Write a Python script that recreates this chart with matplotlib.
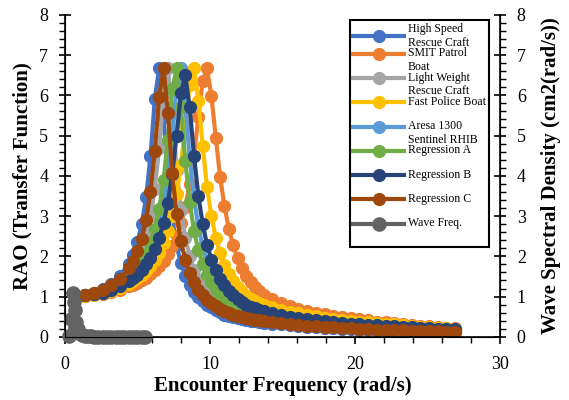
import matplotlib
matplotlib.use("Agg")
import matplotlib.pyplot as plt
from matplotlib.ticker import MultipleLocator

plt.rcParams['font.family'] = ['Liberation Serif', 'DejaVu Serif']

# encounter frequency grid shared by the RAO curves (rad/s)
freq = [0.8, 1.4, 2.0, 2.6, 3.2, 3.8, 4.4,
        4.7, 5.0, 5.3, 5.6, 5.9, 6.2, 6.5, 6.8, 7.1, 7.4, 7.7, 8.0, 8.3, 8.6,
        8.9, 9.2, 9.5, 9.8, 10.1, 10.4, 10.7, 11.0, 11.3, 11.6, 11.9, 12.2,
        12.5, 12.8, 13.1, 13.4, 13.7,
        14.3, 14.9, 15.5, 16.1, 16.7, 17.3, 17.9, 18.5, 19.1, 19.7, 20.3,
        20.9, 21.5, 22.1, 22.7, 23.3, 23.9, 24.5, 25.1, 25.7, 26.3, 26.9]

high_speed = [1.01, 1.05, 1.10, 1.19, 1.31, 1.51, 1.82,
              2.04, 2.35, 2.80, 3.47, 4.48, 5.92, 6.67, 5.47, 3.97, 2.94, 2.27, 1.83, 1.52, 1.29,
              1.12, 0.98, 0.88, 0.80, 0.73, 0.67, 0.61, 0.55, 0.52, 0.49, 0.455, 0.435,
              0.415, 0.40, 0.385, 0.37, 0.355,
              0.33, 0.31, 0.29, 0.27, 0.255, 0.24, 0.225, 0.21, 0.20, 0.19, 0.18,
              0.17, 0.162, 0.155, 0.148, 0.14, 0.135, 0.13, 0.125, 0.12, 0.115, 0.11]

smit_patrol = [1.01, 1.02, 1.04, 1.07, 1.12, 1.17, 1.25,
               1.29, 1.34, 1.41, 1.47, 1.55, 1.65, 1.75, 1.89, 2.05, 2.25, 2.50, 2.82, 3.23, 3.79,
               4.50, 5.45, 6.35, 6.67, 5.98, 4.95, 3.97, 3.25, 2.68, 2.27, 1.95, 1.70,
               1.52, 1.37, 1.24, 1.13, 1.04,
               0.93, 0.84, 0.77, 0.70, 0.645, 0.60, 0.56, 0.52, 0.49, 0.46, 0.43,
               0.405, 0.38, 0.36, 0.34, 0.32, 0.30, 0.28, 0.26, 0.245, 0.23, 0.215]

light_weight = [1.01, 1.04, 1.09, 1.15, 1.25, 1.39, 1.61,
                1.75, 1.95, 2.19, 2.54, 3.00, 3.68, 4.68, 6.05, 6.67, 5.60, 4.15, 3.15, 2.46, 2.00,
                1.66, 1.41, 1.22, 1.07, 0.95, 0.86, 0.78, 0.72, 0.665, 0.62, 0.58, 0.545,
                0.515, 0.49, 0.465, 0.445, 0.425,
                0.395, 0.37, 0.345, 0.325, 0.305, 0.29, 0.27, 0.255, 0.24, 0.23, 0.22,
                0.21, 0.20, 0.19, 0.18, 0.172, 0.165, 0.158, 0.151, 0.145, 0.139, 0.133]

fast_police = [1.01, 1.02, 1.05, 1.09, 1.15, 1.22, 1.32,
               1.38, 1.46, 1.54, 1.64, 1.75, 1.91, 2.09, 2.32, 2.62, 3.00, 3.54, 4.27, 5.24, 6.25,
               6.67, 5.87, 4.74, 3.72, 2.99, 2.46, 2.08, 1.79, 1.57, 1.39, 1.23, 1.11,
               1.01, 0.95, 0.89, 0.84, 0.80,
               0.73, 0.67, 0.62, 0.58, 0.54, 0.505, 0.475, 0.45, 0.425, 0.40, 0.38,
               0.36, 0.34, 0.325, 0.31, 0.29, 0.27, 0.255, 0.24, 0.225, 0.21, 0.195]

aresa_1300 = [1.01, 1.03, 1.07, 1.12, 1.19, 1.29, 1.42,
              1.51, 1.62, 1.76, 1.92, 2.13, 2.41, 2.78, 3.27, 4.00, 4.98, 6.20, 6.67, 5.75, 4.45,
              3.45, 2.73, 2.23, 1.88, 1.61, 1.40, 1.23, 1.09, 0.98, 0.89, 0.82, 0.76,
              0.71, 0.665, 0.63, 0.595, 0.565,
              0.52, 0.48, 0.45, 0.42, 0.395, 0.37, 0.35, 0.33, 0.31, 0.295, 0.28,
              0.267, 0.255, 0.244, 0.233, 0.223, 0.214, 0.205, 0.197, 0.189, 0.182, 0.175]

regression_a = [1.01, 1.03, 1.07, 1.13, 1.21, 1.32, 1.47,
                1.58, 1.70, 1.87, 2.06, 2.33, 2.69, 3.18, 3.90, 4.90, 6.15, 6.67, 5.72, 4.37, 3.35,
                2.64, 2.15, 1.81, 1.54, 1.35, 1.18, 1.05, 0.94, 0.86, 0.79, 0.73, 0.68,
                0.64, 0.60, 0.57, 0.54, 0.515,
                0.475, 0.44, 0.41, 0.385, 0.36, 0.34, 0.32, 0.30, 0.285, 0.27, 0.255,
                0.245, 0.235, 0.225, 0.215, 0.205, 0.196, 0.188, 0.18, 0.173, 0.166, 0.16]

regression_b = [1.00, 1.03, 1.06, 1.10, 1.17, 1.26, 1.38,
                1.45, 1.54, 1.66, 1.80, 1.97, 2.18, 2.45, 2.83, 3.33, 4.05, 5.00, 6.05, 6.50, 5.70,
                4.50, 3.50, 2.80, 2.28, 1.92, 1.65, 1.44, 1.28, 1.14, 1.03, 0.93, 0.86,
                0.80, 0.75, 0.71, 0.67, 0.635,
                0.58, 0.535, 0.50, 0.47, 0.44, 0.415, 0.39, 0.37, 0.35, 0.33, 0.315,
                0.30, 0.285, 0.27, 0.258, 0.246, 0.235, 0.224, 0.213, 0.203, 0.193, 0.183]

regression_c = [1.01, 1.04, 1.09, 1.17, 1.28, 1.44, 1.70,
                1.88, 2.12, 2.44, 2.91, 3.59, 4.62, 5.97, 6.67, 5.55, 4.07, 3.05, 2.37, 1.91, 1.58,
                1.36, 1.17, 1.03, 0.91, 0.83, 0.76, 0.70, 0.64, 0.59, 0.55, 0.515, 0.485,
                0.46, 0.44, 0.425, 0.41, 0.395,
                0.37, 0.345, 0.325, 0.30, 0.28, 0.265, 0.25, 0.235, 0.22, 0.21, 0.20,
                0.19, 0.18, 0.172, 0.165, 0.158, 0.15, 0.144, 0.138, 0.132, 0.126, 0.12]

# wave spectrum (secondary axis)
wave_x = [0.3, 0.45, 0.55, 0.62, 0.7, 0.8, 0.9, 1.0, 1.2, 1.4, 1.6, 1.8, 2.0, 2.3,
          2.6, 2.9, 3.2, 3.5, 3.8, 4.1, 4.4, 4.7, 5.0, 5.3, 5.5]
wave_y = [0.02, 0.45, 1.08, 0.86, 0.66, 0.38, 0.2, 0.1, 0.04, 0.02, 0.01, 0.01, 0.0, 0.0,
          0.0, 0.0, 0.0, 0.0, 0.0, 0.0, 0.0, 0.0, 0.0, 0.0, 0.0]

# labels carry a blank first line so the marker sits beside the first text line
series = [
    ("High Speed\nRescue Craft", high_speed, "#4472C4"),
    ("\nSMIT Patrol\nBoat", smit_patrol, "#ED7D31"),
    ("\nLight Weight\nRescue Craft", light_weight, "#A5A5A5"),
    ("\nFast Police Boat\n", fast_police, "#FFC000"),
    ("\nAresa 1300\nSentinel RHIB", aresa_1300, "#5B9BD5"),
    ("\nRegression A\n", regression_a, "#70AD47"),
    ("\nRegression B\n", regression_b, "#264478"),
    ("\nRegression C\n", regression_c, "#9E480E"),
]

fig = plt.figure(figsize=(5.69, 4.0), dpi=100)
ax = fig.add_axes([0.114, 0.158, 0.765, 0.805])

for label, vals, col in series:
    ax.plot(freq, vals, color=col, lw=3, marker='o', ms=8.5, label=label)

ax2 = ax.twinx()
ax2.plot(wave_x, wave_y, color="#636363", lw=3, marker='o', ms=9.5,
         label="\nWave Freq.\n", clip_on=False)

ax.set_xlim(0, 30)
ax.set_ylim(0, 8)
ax2.set_ylim(0, 8)
ax.xaxis.set_major_locator(MultipleLocator(10))
ax.xaxis.set_minor_locator(MultipleLocator(2))
for a in (ax, ax2):
    a.yaxis.set_major_locator(MultipleLocator(1))
    a.yaxis.set_minor_locator(MultipleLocator(0.2))
    a.spines['top'].set_visible(False)
    a.tick_params(which='major', direction='inout', length=8, width=1.2, labelsize=13, pad=8)
    a.tick_params(which='minor', direction='out', length=4, width=1.0)
ax.tick_params(axis='x', which='major', direction='out', length=5, pad=9)
for s in ('left', 'bottom'):
    ax.spines[s].set_linewidth(1.2)
ax2.spines['right'].set_linewidth(1.2)

ax.set_xlabel("Encounter Frequency (rad/s)", fontsize=15, fontweight='bold', labelpad=2)
ax.set_ylabel("RAO (Transfer Function)", fontsize=15, fontweight='bold', labelpad=5)
ax2.set_ylabel("Wave Spectral Density (cm2(rad/s))", fontsize=15, fontweight='bold', labelpad=11)

h1, l1 = ax.get_legend_handles_labels()
h2, l2 = ax2.get_legend_handles_labels()
leg = ax2.legend(h1 + h2, l1 + l2, loc='upper right', bbox_to_anchor=(0.975, 0.985),
                 borderaxespad=0, fontsize=8.5, handlelength=4.3, handletextpad=0.3,
                 labelspacing=-1.3, borderpad=0.3, fancybox=False, framealpha=1,
                 edgecolor='black')
leg.get_frame().set_linewidth(1.5)

fig.savefig("out.png", dpi=100)
